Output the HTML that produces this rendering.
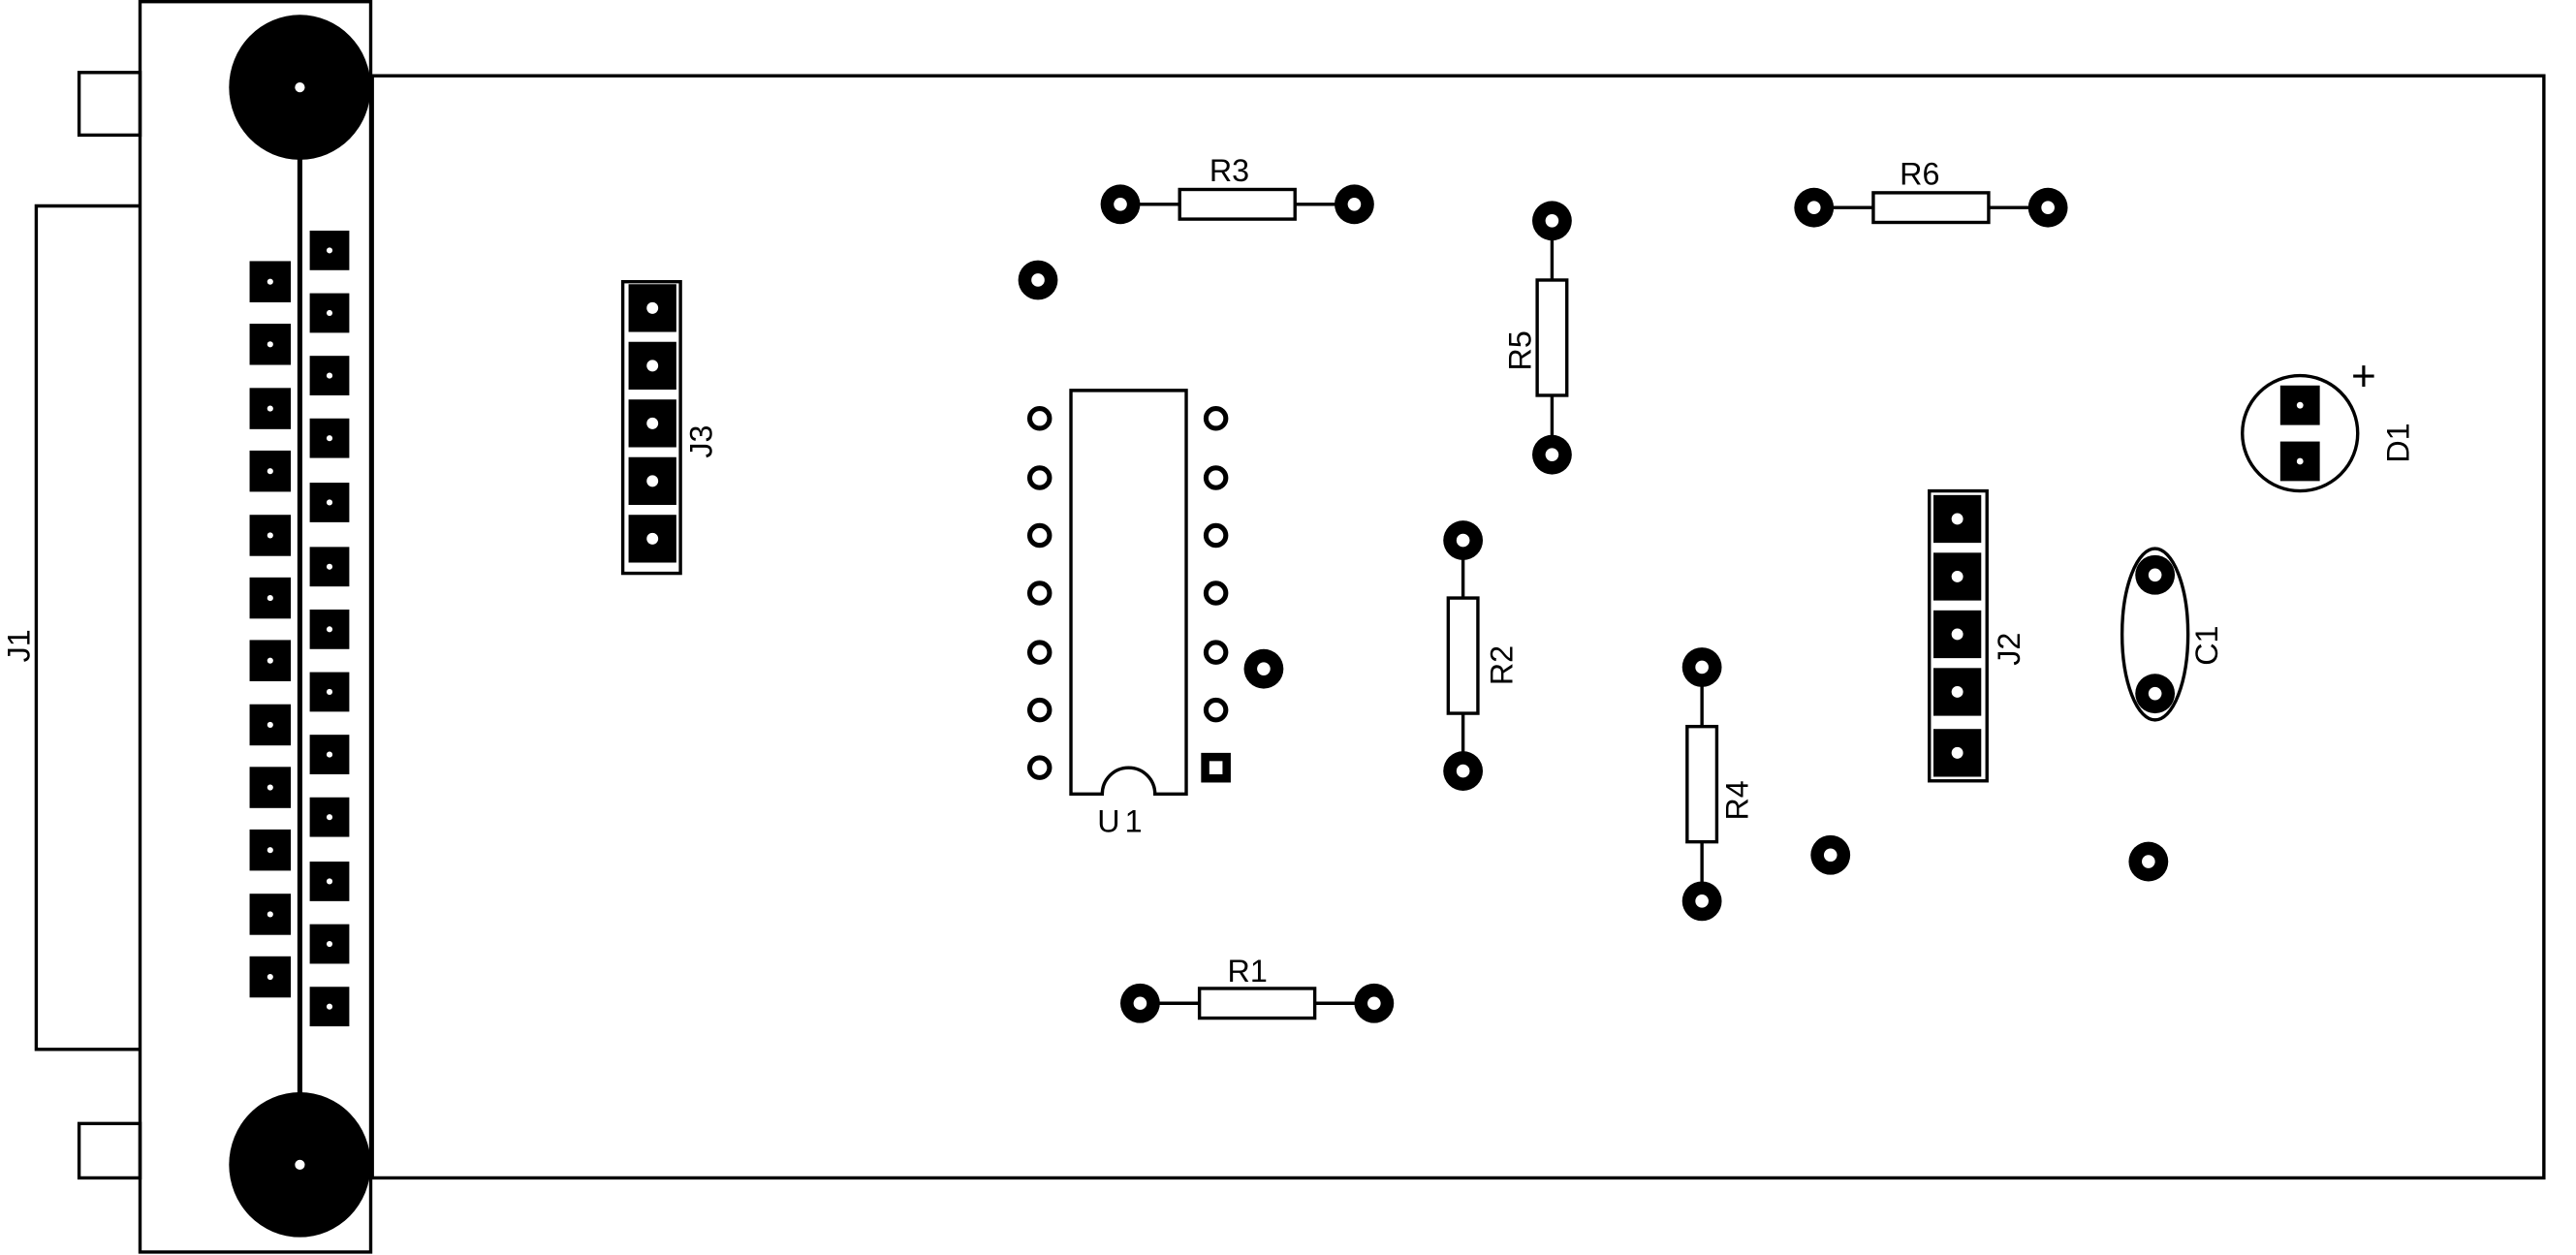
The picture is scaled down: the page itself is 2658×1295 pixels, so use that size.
<!DOCTYPE html>
<html><head><meta charset="utf-8"><style>html,body{margin:0;padding:0;background:#fff}svg{display:block}text{font-family:"Liberation Sans",sans-serif;font-size:19px;fill:#000}</style></head>
<body>
<svg width="2658" height="1295" viewBox="0 0 1563.5 761.8" preserveAspectRatio="none" xmlns="http://www.w3.org/2000/svg">
<g fill="none" stroke="#000" stroke-width="2">
<rect x="226" y="46" width="1318" height="669"/>
<rect x="85" y="1" width="140" height="759"/>
<rect x="48" y="44" width="37" height="38"/>
<rect x="48" y="682" width="37" height="33"/>
<polyline points="85,125 22,125 22,637 85,637"/>
<line x1="182" y1="95" x2="182" y2="665" stroke-width="3"/>
<rect x="378" y="171" width="35" height="177"/>
<rect x="1171" y="298" width="35" height="176"/>
<path d="M650,237 H720 V482 H701 A16,16 0 0 0 669,482 H650 Z"/>
<ellipse cx="1308" cy="385" rx="20" ry="52"/>
<circle cx="1396" cy="263" r="35"/>
</g>
<g id="dyn"></g>
<text x="1427" y="237" style="font-size:26px">+</text>
<text x="666" y="505" style="letter-spacing:3px">U1</text>
<text x="734" y="110">R3</text>
<text x="745" y="596">R1</text>
<text x="1153" y="112">R6</text>
<text transform="translate(929,225) rotate(-90)">R5</text>
<text transform="translate(918,416) rotate(-90)">R2</text>
<text transform="translate(1061,498) rotate(-90)">R4</text>
<text transform="translate(432,278) rotate(-90)">J3</text>
<text transform="translate(1226,404) rotate(-90)">J2</text>
<text transform="translate(1346,404) rotate(-90)">C1</text>
<text transform="translate(1462,281) rotate(-90)">D1</text>
<text transform="translate(18,402) rotate(-90)">J1</text>
</svg>
<script>
const NS="http://www.w3.org/2000/svg";
const g=document.getElementById('dyn');
function el(t,a){const e=document.createElementNS(NS,t);for(const k in a)e.setAttribute(k,a[k]);g.appendChild(e);return e;}
[[182,53],[182,707]].forEach(p=>{el('ellipse',{cx:p[0],cy:p[1],rx:43,ry:44,fill:'#000'});el('circle',{cx:p[0],cy:p[1],r:3,fill:'#fff'});});
const leftY=[171,209,248,286,325,363,401,440,478,516,555,593];
const rightY=[152,190,228,266,305,344,382,420,458,496,535,573,611];
function sq(x,y,s,h){el('rect',{x:x-s/2,y:y-s/2,width:s,height:s,fill:'#000'});el('circle',{cx:x,cy:y,r:h,fill:'#fff'});}
leftY.forEach(y=>sq(164,y,25,1.8));
rightY.forEach(y=>sq(200,y,24,1.8));
[187,222,257,292,327].forEach(y=>sq(396,y,29,3.5));
[315,350,385,420,457].forEach(y=>sq(1188,y,29,3.5));
[254,290,325,360,396,431,466].forEach((y,i)=>{
  el('circle',{cx:631,cy:y,r:6,fill:'none',stroke:'#000','stroke-width':3});
  if(i<6) el('circle',{cx:738,cy:y,r:6,fill:'none',stroke:'#000','stroke-width':3});
  else {el('rect',{x:729,y:y-9,width:18,height:18,fill:'#000'});el('rect',{x:734,y:y-4,width:8,height:8,fill:'#fff'});}
});
function pad(x,y){el('circle',{cx:x,cy:y,r:12,fill:'#000'});el('circle',{cx:x,cy:y,r:4,fill:'#fff'});}
function resH(x1,x2,y){el('line',{x1:x1,y1:y,x2:x2,y2:y,stroke:'#000','stroke-width':2});const m=(x1+x2)/2;el('rect',{x:m-35,y:y-9,width:70,height:18,fill:'#fff',stroke:'#000','stroke-width':2});pad(x1,y);pad(x2,y);}
function resV(x,y1,y2){el('line',{x1:x,y1:y1,x2:x,y2:y2,stroke:'#000','stroke-width':2});const m=(y1+y2)/2;el('rect',{x:x-9,y:m-35,width:18,height:70,fill:'#fff',stroke:'#000','stroke-width':2});pad(x,y1);pad(x,y2);}
resH(680,822,124);resH(692,834,609);resH(1101,1243,126);
resV(942,134,276);resV(888,328,468);resV(1033,405,547);
[[630,170],[767,406],[1111,519],[1304,523]].forEach(p=>pad(p[0],p[1]));
pad(1308,349);pad(1308,421);
sq(1396,246,24,2);sq(1396,280,24,2);
</script>
</body></html>
